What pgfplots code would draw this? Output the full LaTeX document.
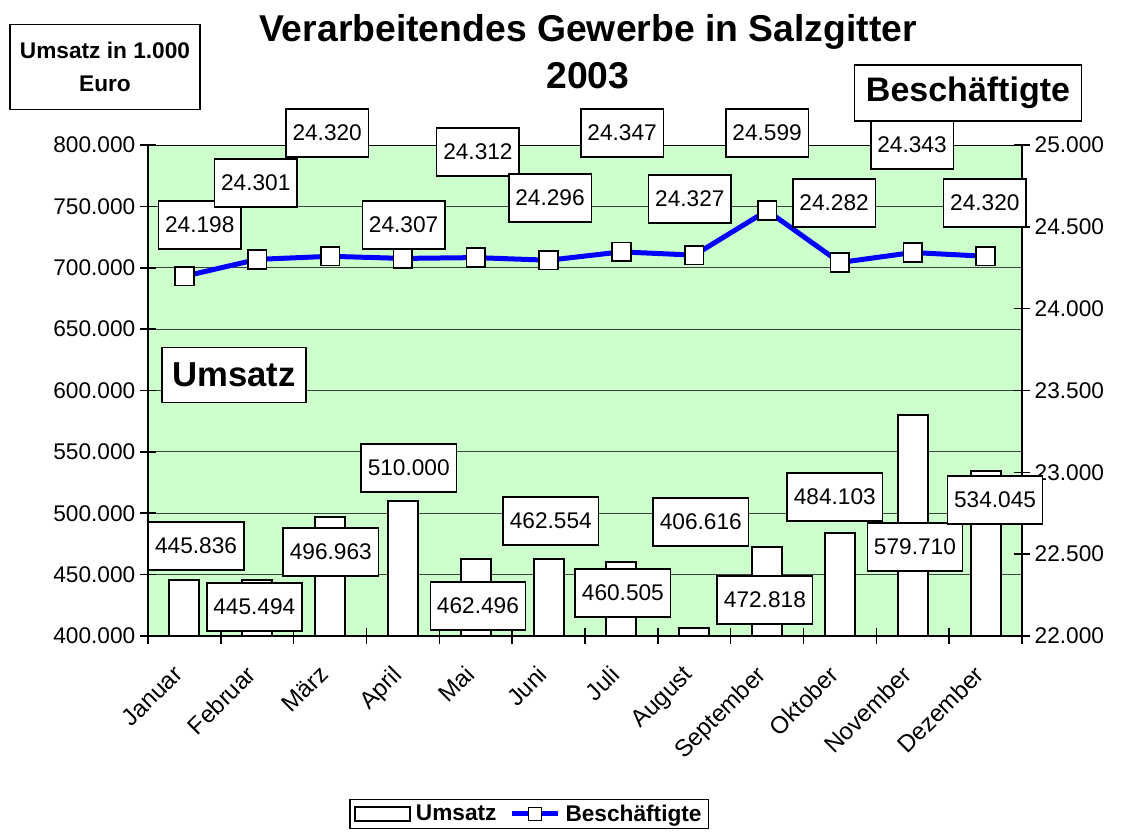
\documentclass[border=0pt]{standalone}
\usepackage{fontspec}
\setmainfont{Liberation Sans}
\usepackage{pgfplots}
\usepackage{pgfplotstable}
\pgfplotsset{compat=1.18}

\definecolor{plotbg}{RGB}{204,255,204}
\definecolor{lineblue}{RGB}{0,0,255}

% Umsatz in 1.000 Euro; lx/ly = where the value box sits
\pgfplotstableread{
x  y       lx     ly      lab
1  445836  1.16   473300  445.836
2  445494  1.96   423600  445.494
3  496963  3.01   468400  496.963
4  510000  4.08   536900  510.000
5  462496  5.03   424400  462.496
6  462554  6.03   493700  462.554
7  460505  7.02   435000  460.505
8  406616  8.09   492900  406.616
9  472818  8.97   429300  472.818
10 484103  9.93   513200  484.103
11 579710  11.03  472500  579.710
12 534045  12.13  510800  534.045
}\umsatz

% Beschaeftigte
\pgfplotstableread{
x  y      lx     ly     lab
1  24198  1.21   24511  24.198
2  24301  1.98   24768  24.301
3  24320  2.96   25073  24.320
4  24307  4.01   24511  24.307
5  24312  5.03   24957  24.312
6  24296  6.02   24676  24.296
7  24347  7.01   25073  24.347
8  24327  7.94   24670  24.327
9  24599  9.00   25073  24.599
10 24282  9.92   24645  24.282
11 24343  10.99  25000  24.343
12 24320  11.99  24645  24.320
}\besch

\pgfplotsset{
  common/.style={
    width=655.5pt, height=368.25pt, scale only axis,
    at={(0pt,0pt)}, anchor=south west,
    xmin=0.5, xmax=12.5,
    tick align=center,
    major tick length=12pt, minor tick length=12pt,
    every tick/.style={black, line width=1.2pt},
    axis line style={black, line width=1.5pt},
    ticklabel style={font=\fontsize{17}{20}\selectfont},
    scaled y ticks=false,
    /pgf/number format/assume math mode=true,
    /pgf/number format/fixed,
    /pgf/number format/1000 sep={.},
  },
  lbl/.style={
    forget plot, only marks, mark=none,
    nodes near coords, point meta=explicit symbolic,
    every node near coord/.style={draw=black, line width=1.2pt, fill=white,
      text=black, anchor=center, inner xsep=5pt, inner ysep=0pt,
      minimum height=36pt, font=\fontsize{17}{20}\selectfont},
  },
  barlegend/.style={legend image code/.code={%
    \draw[black, line width=1.5pt, fill=white] (0pt,-5pt) rectangle (41pt,5pt);}},
  linelegend/.style={legend image code/.code={%
    \draw[mark repeat=2, mark phase=2, ##1] plot coordinates {(0pt,0pt) (17pt,0pt) (34pt,0pt)};}},
}

\begin{document}
\begin{tikzpicture}
\useasboundingbox (-111pt,-147pt) rectangle (731.25pt,477pt);

\begin{axis}[common,
  axis x line*=bottom, axis y line*=left,
  axis background/.style={fill=plotbg},
  ymin=400000, ymax=800000,
  ytick={400000,450000,...,800000},
  ymajorgrids, major grid style={black!75, line width=0.6pt},
  xtick={0.5,1.5,...,12.5}, xticklabels={},
  extra x ticks={1,...,12},
  extra x tick labels={Januar,Februar,März,April,Mai,Juni,Juli,August,September,Oktober,November,Dezember},
  extra x tick style={major tick length=0pt,
    xticklabel style={rotate=45, anchor=north east, xshift=-18pt, yshift=-5pt,
      font=\fontsize{18}{20}\selectfont}},
  legend style={at={(axis description cs:0.436,-0.3625)}, anchor=center,
    draw=black, line width=1pt, legend columns=2,
    font=\bfseries\fontsize{17}{20}\selectfont,
    /tikz/every odd column/.append style={column sep=2pt},
    /tikz/every even column/.append style={column sep=8pt}},
]
\addplot[ybar, bar width=22.5pt, draw=black, line width=1.5pt, fill=white, barlegend]
  table[x=x, y=y] {\umsatz};
\addlegendentry{Umsatz}
\addlegendimage{lineblue, line width=3.75pt, mark=square*, mark size=5pt,
  mark options={fill=white, draw=black, line width=1.2pt}, linelegend}
\addlegendentry{Beschäftigte}
\end{axis}

\begin{axis}[common,
  axis y line*=right, axis x line=none,
  clip=false,
  ymin=22000, ymax=25000,
  ytick={22000,22500,...,25000},
]
\draw[black, line width=0.6pt] (rel axis cs:0,1) -- (rel axis cs:1,1);
\addplot[lineblue, line width=3.75pt, mark=square*, mark size=7pt,
  mark options={fill=white, draw=black, line width=1.2pt}]
  table[x=x, y=y] {\besch};
\addplot[lbl] table[x=lx, y=ly, meta=lab] {\besch};
\addplot[lbl] table[x=lx, y expr=22000+(\thisrow{ly}-400000)*0.0075, meta=lab] {\umsatz};
\end{axis}

\node[font=\bfseries\fontsize{28}{35}\selectfont, align=center] at (330pt,438pt)
  {Verarbeitendes Gewerbe in Salzgitter\\2003};
\node[draw=black, line width=1.2pt, fill=white, align=center, minimum width=142.5pt,
  minimum height=63.75pt, font=\bfseries\fontsize{17}{25}\selectfont] at (-32.25pt,426.75pt)
  {Umsatz in 1.000\\Euro};
\node[draw=black, line width=1.2pt, fill=white, minimum width=108pt, minimum height=41pt,
  font=\bfseries\fontsize{26}{30}\selectfont] at (64.5pt,195.75pt) {Umsatz};
\node[draw=black, line width=1.2pt, fill=white, minimum width=170pt, minimum height=42pt,
  font=\bfseries\fontsize{25.5}{30}\selectfont] at (615pt,407.25pt) {Beschäftigte};
\end{tikzpicture}
\end{document}
